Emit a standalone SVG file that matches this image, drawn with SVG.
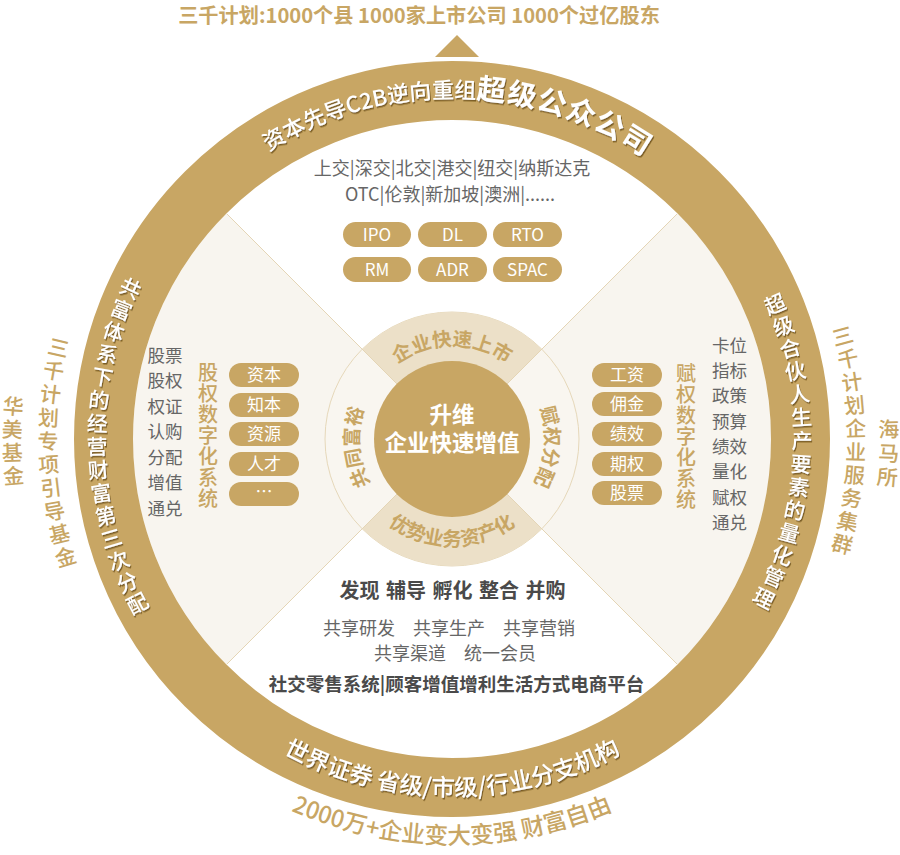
<svg xmlns="http://www.w3.org/2000/svg" xmlns:xlink="http://www.w3.org/1999/xlink" width="900" height="855" viewBox="0 0 900 855">
<style>
text{font-family:"Noto Sans CJK SC","Noto Sans",sans-serif}
.gold{fill:#c8a664}
.pill{fill:#c8a664}
.pt{fill:#fff;font-size:17px;text-anchor:middle}
.gray{fill:#666;font-size:18px;text-anchor:middle}
.col{fill:#666;font-size:17.5px;text-anchor:middle}
.dark{fill:#4a4a4a;font-weight:700;text-anchor:middle}
.vt{fill:#c8a664;font-size:20px;font-weight:500;writing-mode:vertical-rl;letter-spacing:1px}
.rw{fill:#fff;font-size:21px;font-weight:500;text-anchor:middle;dominant-baseline:central}
.og{fill:#c8a664;font-size:21px;font-weight:500;text-anchor:middle;dominant-baseline:central}
.mr{fill:#c8a664;font-size:19.5px;font-weight:700}
.qline{stroke:#e4d5b6;stroke-width:1;fill:none}
</style>
<defs>
<filter id="sh" x="-20%" y="-20%" width="140%" height="140%">
<feDropShadow dx="1" dy="1.5" stdDeviation="0.7" flood-color="#5e4418" flood-opacity="0.75"/>
</filter>
<path id="p-top" d="M 111 439 A 341 341 0 0 1 793 439"/>
<path id="p-bot" d="M 95 439 A 357 357 0 0 0 809 439"/>
<path id="p-obot" d="M 47 439 A 405 405 0 0 0 857 439"/>
<path id="p-mtop" d="M 359 439 A 93 93 0 0 1 545 439"/>
<path id="p-mbot" d="M 345 439 A 107 107 0 0 0 559 439"/>
<path id="p-mleft" d="M 452 532 A 93 93 0 0 1 452 346"/>
<path id="p-mright" d="M 452 346 A 93 93 0 0 1 452 532"/>
<path id="p-rleft" d="M 161.2 235.4 A 355 355 0 0 0 161.2 642.6"/>
</defs>
<rect width="900" height="855" fill="#fff"/>

<g id="title">
<text x="419" y="23" text-anchor="middle" font-size="20.2" font-weight="700" class="gold">三千计划:1000个县 1000家上市公司 1000个过亿股东</text>
<polygon points="435,57 479,57 457,35" fill="#c8a664"/>
</g>

<g id="quadrants">
<circle cx="452" cy="439" r="319" fill="#fff"/>
<path d="M 452 439 L 226.4 213.4 A 319 319 0 0 0 226.4 664.6 Z" fill="#f8f5ef"/>
<path d="M 452 439 L 677.6 213.4 A 319 319 0 0 1 677.6 664.6 Z" fill="#f8f5ef"/>
</g>

<g id="ring">
<circle cx="452" cy="439" r="348.5" fill="none" stroke="#c8a664" stroke-width="59"/>
</g>

<g id="ring-top-text" filter="url(#sh)">
<text fill="#fff" font-size="22" font-weight="500"><textPath href="#p-top" startOffset="50.5%" text-anchor="middle">资本先导C2B逆向重组<tspan font-size="29" font-weight="700" letter-spacing="1">超级公众公司</tspan></textPath></text>
</g>

<g id="ring-bottom-text" filter="url(#sh)">
<text fill="#fff" font-size="23.5" font-weight="500"><textPath href="#p-bot" startOffset="50%" text-anchor="middle">世界证券 省级/市级/行业分支机构</textPath></text>
</g>

<g id="ring-left-text" filter="url(#sh)">
<text fill="#fff" font-size="21" font-weight="500" writing-mode="vertical-rl" letter-spacing="2.3"><textPath href="#p-rleft" startOffset="52%" text-anchor="middle">共富体系下的经营财富第三次分配</textPath></text>
</g>

<g id="ring-right-text" filter="url(#sh)">
<text class="rw" font-weight="700" x="774.5" y="303.1" transform="rotate(-22.85 774.5 303.1)">超</text>
<text class="rw" font-weight="700" x="782.9" y="324.9" transform="rotate(-19.03 782.9 324.9)">级</text>
<text class="rw" font-weight="700" x="789.8" y="347.2" transform="rotate(-15.2 789.8 347.2)">合</text>
<text class="rw" font-weight="700" x="795.1" y="369.9" transform="rotate(-11.38 795.1 369.9)">伙</text>
<text class="rw" font-weight="700" x="799.0" y="392.9" transform="rotate(-7.56 799.0 392.9)">人</text>
<text class="rw" font-weight="700" x="801.3" y="416.2" transform="rotate(-3.74 801.3 416.2)">生</text>
<text class="rw" font-weight="700" x="802.0" y="439.6" transform="rotate(0.09 802.0 439.6)">产</text>
<text class="rw" font-weight="700" x="801.2" y="462.9" transform="rotate(3.91 801.2 462.9)">要</text>
<text class="rw" font-weight="700" x="798.8" y="486.1" transform="rotate(7.73 798.8 486.1)">素</text>
<text class="rw" font-weight="700" x="794.9" y="509.1" transform="rotate(11.56 794.9 509.1)">的</text>
<text class="rw" font-weight="700" x="789.5" y="531.8" transform="rotate(15.38 789.5 531.8)">量</text>
<text class="rw" font-weight="700" x="782.5" y="554.1" transform="rotate(19.2 782.5 554.1)">化</text>
<text class="rw" font-weight="700" x="774.1" y="575.9" transform="rotate(23.03 774.1 575.9)">管</text>
<text class="rw" font-weight="700" x="764.3" y="597.1" transform="rotate(26.85 764.3 597.1)">理</text>
</g>

<g id="outer-left-1">
<text class="og" x="58.7" y="346.7" transform="rotate(13.2 58.7 346.7)">三</text>
<text class="og" x="54.0" y="369.8" transform="rotate(9.87 54.0 369.8)">千</text>
<text class="og" x="50.6" y="393.1" transform="rotate(6.53 50.6 393.1)">计</text>
<text class="og" x="48.6" y="416.5" transform="rotate(3.2 48.6 416.5)">划</text>
<text class="og" x="48.0" y="439.9" transform="rotate(-0.13 48.0 439.9)">专</text>
<text class="og" x="48.7" y="463.4" transform="rotate(-3.47 48.7 463.4)">项</text>
<text class="og" x="50.8" y="486.8" transform="rotate(-6.8 50.8 486.8)">引</text>
<text class="og" x="54.3" y="510.1" transform="rotate(-10.13 54.3 510.1)">导</text>
<text class="og" x="59.1" y="533.1" transform="rotate(-13.47 59.1 533.1)">基</text>
<text class="og" x="65.3" y="555.8" transform="rotate(-16.8 65.3 555.8)">金</text>
</g>

<g id="outer-left-2">
<text class="og" x="13.3" y="405.0" transform="rotate(4.43 13.3 405.0)">华</text>
<text class="og" x="12.1" y="428.2" transform="rotate(1.4 12.1 428.2)">美</text>
<text class="og" x="12.2" y="451.5" transform="rotate(-1.63 12.2 451.5)">基</text>
<text class="og" x="13.5" y="474.7" transform="rotate(-4.66 13.5 474.7)">金</text>
</g>

<g id="outer-right-1">
<text class="og" x="842.4" y="335.1" transform="rotate(-14.9 842.4 335.1)">三</text>
<text class="og" x="847.8" y="357.8" transform="rotate(-11.59 847.8 357.8)">千</text>
<text class="og" x="851.8" y="380.8" transform="rotate(-8.28 851.8 380.8)">计</text>
<text class="og" x="854.5" y="404.0" transform="rotate(-4.97 854.5 404.0)">划</text>
<text class="og" x="855.8" y="427.3" transform="rotate(-1.66 855.8 427.3)">企</text>
<text class="og" x="855.8" y="450.7" transform="rotate(1.66 855.8 450.7)">业</text>
<text class="og" x="854.5" y="474.0" transform="rotate(4.97 854.5 474.0)">服</text>
<text class="og" x="851.8" y="497.2" transform="rotate(8.28 851.8 497.2)">务</text>
<text class="og" x="847.8" y="520.2" transform="rotate(11.59 847.8 520.2)">集</text>
<text class="og" x="842.4" y="542.9" transform="rotate(14.9 842.4 542.9)">群</text>
</g>

<g id="outer-right-2">
<text class="og" x="888.9" y="427.9" transform="rotate(-1.45 888.9 427.9)">海</text>
<text class="og" x="888.8" y="452.0" transform="rotate(1.7 888.8 452.0)">马</text>
<text class="og" x="887.4" y="475.9" transform="rotate(4.85 887.4 475.9)">所</text>
</g>

<g id="outer-bottom">
<text class="gold" font-size="23.5" font-weight="500"><textPath href="#p-obot" startOffset="50%" text-anchor="middle">2000万+企业变大变强 财富自由</textPath></text>
</g>

<g id="top-quadrant">
<text class="gray" x="452" y="175">上交|深交|北交|港交|纽交|纳斯达克</text>
<text class="gray" x="450" y="201">OTC|伦敦|新加坡|澳洲|......</text>
<g id="pill-ipo"><rect class="pill" x="343" y="222" width="68" height="25" rx="12.5"/><text class="pt" x="377" y="240.5">IPO</text></g>
<g id="pill-dl"><rect class="pill" x="418" y="222" width="69" height="25" rx="12.5"/><text class="pt" x="452.5" y="240.5">DL</text></g>
<g id="pill-rto"><rect class="pill" x="493" y="222" width="69" height="25" rx="12.5"/><text class="pt" x="527.5" y="240.5">RTO</text></g>
<g id="pill-rm"><rect class="pill" x="343" y="257" width="68" height="25" rx="12.5"/><text class="pt" x="377" y="275.5">RM</text></g>
<g id="pill-adr"><rect class="pill" x="418" y="257" width="69" height="25" rx="12.5"/><text class="pt" x="452.5" y="275.5">ADR</text></g>
<g id="pill-spac"><rect class="pill" x="493" y="257" width="69" height="25" rx="12.5"/><text class="pt" x="527.5" y="275.5">SPAC</text></g>
</g>

<g id="left-quadrant">
<text class="col" x="165"><tspan x="165" y="361.7">股票</tspan><tspan x="165" y="387.2">股权</tspan><tspan x="165" y="412.7">权证</tspan><tspan x="165" y="438.2">认购</tspan><tspan x="165" y="463.7">分配</tspan><tspan x="165" y="489.2">增值</tspan><tspan x="165" y="514.7">通兑</tspan></text>
<text class="vt" x="208" y="362">股权数字化系统</text>
<g id="pill-zb"><rect class="pill" x="229" y="363" width="70" height="24" rx="12"/><text class="pt" x="264" y="381">资本</text></g>
<g id="pill-zhb"><rect class="pill" x="229" y="393" width="70" height="24" rx="12"/><text class="pt" x="264" y="411">知本</text></g>
<g id="pill-zy"><rect class="pill" x="229" y="422" width="70" height="24" rx="12"/><text class="pt" x="264" y="440">资源</text></g>
<g id="pill-rc"><rect class="pill" x="229" y="452" width="70" height="24" rx="12"/><text class="pt" x="264" y="470">人才</text></g>
<g id="pill-more"><rect class="pill" x="229" y="482" width="70" height="24" rx="12"/><text class="pt" x="264" y="498">…</text></g>
</g>

<g id="right-quadrant">
<g id="pill-gz"><rect class="pill" x="592" y="363" width="70" height="24" rx="12"/><text class="pt" x="627" y="381">工资</text></g>
<g id="pill-yj"><rect class="pill" x="592" y="392" width="70" height="24" rx="12"/><text class="pt" x="627" y="410">佣金</text></g>
<g id="pill-jx"><rect class="pill" x="592" y="422" width="70" height="24" rx="12"/><text class="pt" x="627" y="440">绩效</text></g>
<g id="pill-qq"><rect class="pill" x="592" y="452" width="70" height="24" rx="12"/><text class="pt" x="627" y="470">期权</text></g>
<g id="pill-gp"><rect class="pill" x="592" y="481" width="70" height="24" rx="12"/><text class="pt" x="627" y="499">股票</text></g>
<text class="vt" x="686" y="363">赋权数字化系统</text>
<text class="col"><tspan x="729.5" y="351.7">卡位</tspan><tspan x="729.5" y="377">指标</tspan><tspan x="729.5" y="402.3">政策</tspan><tspan x="729.5" y="427.6">预算</tspan><tspan x="729.5" y="452.9">绩效</tspan><tspan x="729.5" y="478.2">量化</tspan><tspan x="729.5" y="503.5">赋权</tspan><tspan x="729.5" y="528.8">通兑</tspan></text>
</g>

<g id="bottom-quadrant">
<text class="dark" x="452.5" y="597.5" font-size="20" word-spacing="2">发现 辅导 孵化 整合 并购</text>
<text class="gray" x="449" y="634.5">共享研发　共享生产　共享营销</text>
<text class="gray" x="455" y="659.5">共享渠道　统一会员</text>
<text class="dark" x="456.5" y="690.5" font-size="18.5">社交零售系统|顾客增值增利生活方式电商平台</text>
</g>

<g id="middle-ring">
<circle cx="452" cy="439" r="127" fill="#f9f6f0" stroke="#e6d8ba" stroke-width="1"/>
<path d="M 452 439 L 362.2 349.2 A 127 127 0 0 1 541.8 349.2 Z" fill="#ece0c8"/>
<path d="M 452 439 L 541.8 528.8 A 127 127 0 0 1 362.2 528.8 Z" fill="#ece0c8"/>
</g>

<g id="connectors">
<line class="qline" x1="226.4" y1="213.4" x2="677.6" y2="664.6"/>
<line class="qline" x1="677.6" y1="213.4" x2="226.4" y2="664.6"/>
</g>

<g id="middle-ring-text">
<text class="mr"><textPath href="#p-mtop" startOffset="50%" text-anchor="middle">企业快速上市</textPath></text>
<text class="mr"><textPath href="#p-mbot" startOffset="50%" text-anchor="middle">优势业务资产化</textPath></text>
<text class="mr"><textPath href="#p-mleft" startOffset="47.3%" text-anchor="middle">共同富裕</textPath></text>
<text class="mr"><textPath href="#p-mright" startOffset="52.6%" text-anchor="middle">赋权分配</textPath></text>
</g>

<g id="center">
<circle cx="452" cy="439" r="78" fill="#c8a664"/>
<text text-anchor="middle" fill="#fff" font-size="22.5" font-weight="700"><tspan x="452" y="422.5">升维</tspan><tspan x="452" y="451">企业快速增值</tspan></text>
</g>
</svg>
